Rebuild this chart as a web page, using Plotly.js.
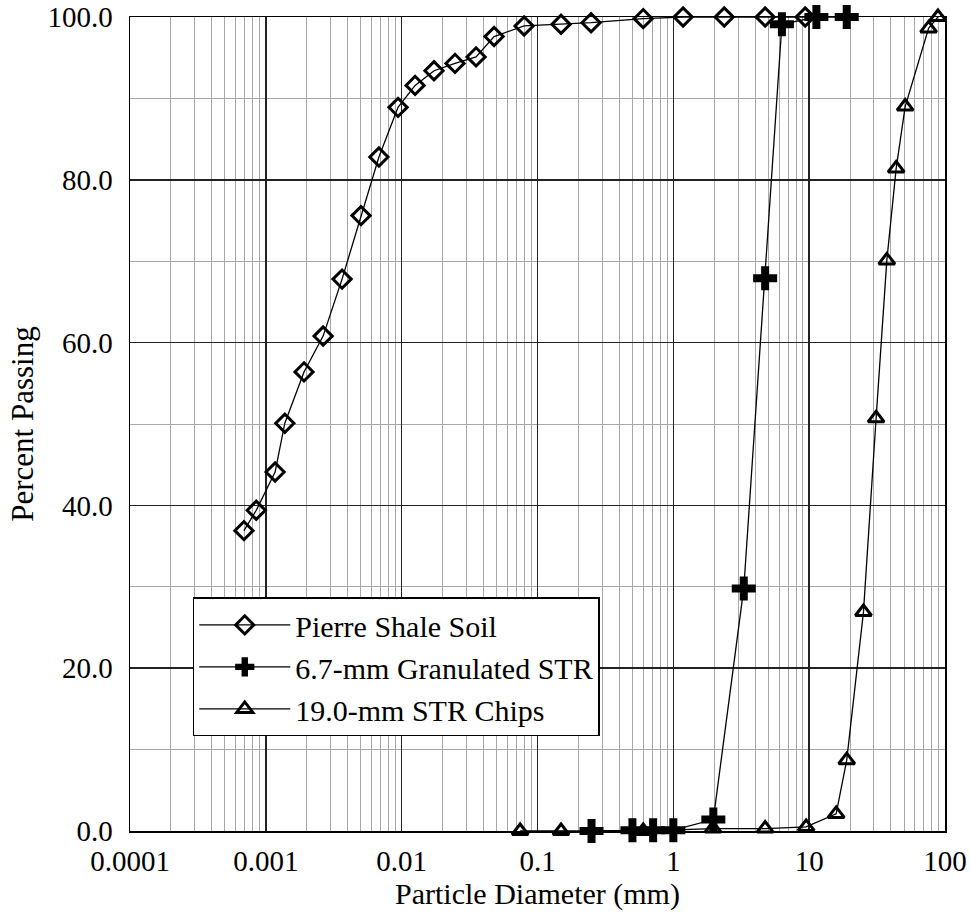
<!DOCTYPE html>
<html>
<head>
<meta charset="utf-8">
<script src="https://cdn.plot.ly/plotly-3.0.1.min.js"></script>
<style>body{margin:0;background:#fff;}#chart{width:970px;height:915px;}</style>
</head>
<body>
<div id="chart"></div>
<script>
// Data
const shaleSize = [0.00069, 0.00085, 0.00117, 0.00138, 0.00191, 0.00264, 0.00364, 0.00502, 0.0068, 0.0094, 0.01256, 0.0173, 0.0247, 0.0353, 0.0479, 0.0797, 0.149, 0.248, 0.600, 1.18, 2.37, 4.74, 9.35];
const shalePass = [36.9, 39.4, 44.1, 50.1, 56.4, 60.8, 67.8, 75.6, 82.8, 88.9, 91.6, 93.4, 94.3, 95.1, 97.6, 98.9, 99.1, 99.3, 99.8, 100.0, 100.0, 100.0, 100.0];

const granSize = [0.25, 0.5, 0.71, 1.0, 1.97, 3.3, 4.74, 6.3, 11.3, 18.9];
const granPass = [0.0, 0.1, 0.1, 0.1, 1.4, 29.8, 67.9, 99.1, 100.0, 100.0];

const chipSize = [0.0745, 0.149, 0.6, 1.96, 4.74, 9.5, 15.8, 18.9, 25.1, 31.1, 37.3, 43.7, 50.9, 75.7, 88.7];
const chipPass = [0.0, 0.0, 0.0, 0.3, 0.3, 0.5, 2.1, 8.7, 26.9, 50.7, 70.1, 81.4, 89.0, 98.6, 100.0];

const seriesNames = ["Pierre Shale Soil", "6.7-mm Granulated STR", "19.0-mm STR Chips"];
const xTickVals = [0.0001, 0.001, 0.01, 0.1, 1, 10, 100];
const xTickText = ["0.0001", "0.001", "0.01", "0.1", "1", "10", "100"];
const yTickVals = [0, 20, 40, 60, 80, 100];
const yTickText = ["0.0", "20.0", "40.0", "60.0", "80.0", "100.0"];

const minorX = [];
for (let e = -4; e < 2; e++) {
  for (let m = 2; m <= 9; m++) minorX.push(m * Math.pow(10, e));
}

const fam = "Times New Roman, Liberation Serif, serif";
const f = (s) => ({family: fam, size: s, color: "#000"});

const lineStyle = {color: "#000", width: 1.3};
const traces = [
  {x: shaleSize, y: shalePass, name: seriesNames[0], type: "scatter", mode: "lines+markers",
   line: lineStyle, cliponaxis: false,
   marker: {symbol: "diamond-open", size: 14, color: "#000", line: {width: 3, color: "#000"}}},
  {x: granSize, y: granPass, name: seriesNames[1], type: "scatter", mode: "lines+markers",
   line: lineStyle, cliponaxis: false,
   marker: {symbol: "cross", size: 20, color: "#000", line: {width: 0}}},
  {x: chipSize, y: chipPass, name: seriesNames[2], type: "scatter", mode: "lines+markers",
   line: lineStyle, cliponaxis: false,
   marker: {symbol: "triangle-up-open", size: 14, color: "#000", line: {width: 3, color: "#000"}}}
];

const layout = {
  width: 970, height: 915,
  margin: {l: 130, r: 25, t: 17, b: 84},
  paper_bgcolor: "#fff", plot_bgcolor: "#fff",
  font: f(30),
  showlegend: true,
  legend: {
    x: 0.077, y: 0.287, xanchor: "left", yanchor: "top",
    bgcolor: "#fff", bordercolor: "#000", borderwidth: 1.5,
    font: f(30), itemwidth: 91,
    tracegroupgap: 0
  },
  xaxis: {
    type: "log", range: [-4, 2],
    tickmode: "array", tickvals: xTickVals, ticktext: xTickText,
    showgrid: true, gridcolor: "#222", gridwidth: 1.5,
    showline: true, linecolor: "#000", linewidth: 1.5, mirror: true,
    ticks: "", tickfont: f(29), ticklabelstandoff: 4,
    zeroline: false,
    minor: {tickmode: "array", tickvals: minorX, showgrid: true, gridcolor: "#a8a8a8", gridwidth: 1, ticks: ""},
    title: {text: "Particle Diameter (mm)", font: f(30), standoff: 0}
  },
  yaxis: {
    range: [0, 100],
    tickmode: "array", tickvals: yTickVals, ticktext: yTickText,
    showgrid: true, gridcolor: "#222", gridwidth: 1.5,
    showline: true, linecolor: "#000", linewidth: 1.5, mirror: true,
    ticks: "", tickfont: f(29), ticklabelstandoff: 10,
    zeroline: false,
    minor: {dtick: 10, showgrid: true, gridcolor: "#a8a8a8", gridwidth: 1, ticks: ""},
    title: {text: "Percent Passing", font: f(31), standoff: 4}
  }
};

Plotly.newPlot("chart", traces, layout, {displayModeBar: false, staticPlot: true});
</script>
</body>
</html>
